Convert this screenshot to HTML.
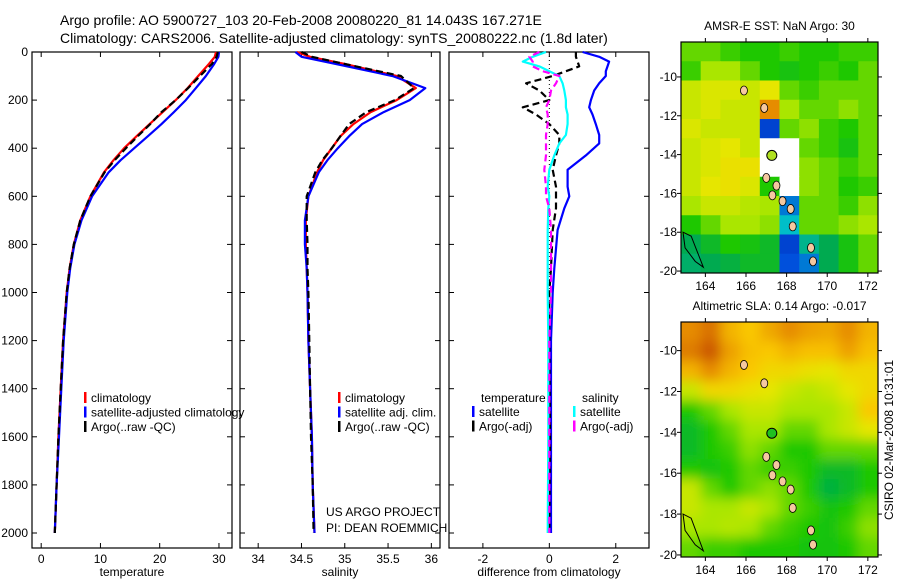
<!DOCTYPE html>
<html><head><meta charset="utf-8"><style>
body{margin:0;background:#fff;}
svg text{font-family:"Liberation Sans",sans-serif;fill:#000;}
</style></head><body>
<svg id="fig" width="900" height="580" viewBox="0 0 900 580" xmlns="http://www.w3.org/2000/svg">
<text x="60" y="25" font-size="14">Argo profile: AO 5900727_103 20-Feb-2008 20080220_81 14.043S 167.271E</text>
<text x="60" y="43" font-size="14">Climatology: CARS2006. Satellite-adjusted climatology: synTS_20080222.nc (1.8d later)</text>
<g id="plots"></g>
<text transform="translate(893,440) rotate(-90)" text-anchor="middle" font-size="12">CSIRO 02-Mar-2008 10:31:01</text>
</svg>
<script>
const depths=[0,20,50,100,150,200,250,300,350,400,450,500,600,700,800,900,1000,1200,1400,1600,1800,2000];
const tempClim=[29.5,29.3,28.3,26.5,24.7,22.7,20.5,18.3,16.1,14.0,12.2,10.6,8.3,6.6,5.5,4.8,4.3,3.7,3.3,2.9,2.6,2.3];
const tempSat=[30.0,29.9,29.2,27.8,26.1,24.4,22.4,20.3,18.0,15.7,13.4,11.4,8.6,6.8,5.6,4.9,4.4,3.8,3.4,3.0,2.6,2.3];
const tempArgo=[29.8,29.6,28.8,26.8,24.8,22.7,20.3,18.4,16.3,14.3,12.4,10.7,8.3,6.6,5.5,4.8,4.3,3.7,3.3,2.9,2.6,2.3];
const salClim=[34.45,34.6,35.0,35.6,35.82,35.6,35.3,35.1,34.95,34.85,34.75,34.68,34.58,34.55,34.55,34.56,34.57,34.58,34.6,34.62,34.63,34.65];
const salSat=[34.43,34.5,34.9,35.55,35.93,35.75,35.45,35.2,35.05,34.92,34.8,34.7,34.58,34.54,34.54,34.56,34.57,34.58,34.6,34.62,34.63,34.65];
const salArgo=[34.5,34.62,35.0,35.65,35.8,35.58,35.25,35.05,34.95,34.85,34.74,34.66,34.56,34.56,34.57,34.57,34.58,34.59,34.6,34.61,34.63,34.64];
const dDepths=[0,20,40,60,80,100,130,160,200,230,260,300,345,380,430,490,560,600,650,740,900,1000,1200,1600,2000];
const dTempSat=[1.0,1.5,1.8,1.75,1.7,1.7,1.5,1.35,1.25,1.2,1.3,1.4,1.5,1.5,1.1,0.55,0.55,0.6,0.45,0.25,0.15,0.1,0.05,0.05,0.05];
const dTempArgo=[0.8,0.8,0.85,0.9,0.5,0.1,-0.7,-0.3,0,-0.8,-0.4,0,0.3,0.3,0.2,0.1,0.2,0.2,0.2,0.1,0.05,0,0,0.02,0];
const dSalSat=[-0.1,-0.5,-0.8,-0.3,0.0,0.3,0.4,0.45,0.5,0.5,0.55,0.55,0.5,0.3,0.15,0.0,-0.05,0,-0.03,-0.05,-0.05,-0.05,-0.03,-0.03,-0.05];
const dSalArgo=[-0.3,-0.6,-0.5,-0.5,-0.2,0.3,0.2,0.05,0,-0.1,-0.05,-0.05,-0.1,-0.1,-0.1,-0.15,-0.1,-0.1,0,0.05,0.05,0.05,0,0,0];
const depthTicks=[0,200,400,600,800,1000,1200,1400,1600,1800,2000];
const tempTicks=[0,10,20,30];
const salTicks=[34,34.5,35,35.5,36];
const salTickLabels=["34","34.5","35","35.5","36"];
const diffTicks=[-2,0,2];
const lonTicks=[164,166,168,170,172];
const latTicks=[-10,-12,-14,-16,-18,-20];
const sstGrid=[
[.45,.45,.42,.40,.40,.42,.40,.40,.42,.42],
[.42,.50,.50,.45,.40,.38,.40,.42,.40,.45],
[.55,.58,.58,.55,.60,.45,.42,.45,.45,.45],
[.55,.58,.55,.55,.85,.50,.45,.45,.48,.45],
[.58,.55,.55,.55,.10,.45,.48,.42,.40,.45],
[.55,.58,.60,.55,null,null,.45,.42,.38,.45],
[.55,.58,.62,.62,null,null,.48,.45,.42,.45],
[.55,.60,.62,.58,.40,null,.48,.45,.40,.42],
[.50,.55,.55,.52,.50,.15,.45,.45,.42,.48],
[.40,.45,.50,.50,.48,.20,.45,.45,.48,.50],
[.30,.35,.40,.38,.35,.10,.25,.30,.38,.45],
[.28,.30,.32,.35,.35,.12,.15,.30,.38,.45]];
const slaGrid=[
[.85,.90,.75,.70,.78,.85,.80,.78,.85,.75],
[.88,.95,.80,.72,.70,.75,.72,.72,.80,.72],
[.75,.85,.75,.70,.65,.65,.62,.60,.65,.65],
[.55,.65,.65,.62,.60,.55,.52,.55,.60,.65],
[.40,.45,.50,.55,.55,.50,.50,.50,.55,.70],
[.35,.40,.45,.50,.50,.45,.45,.50,.55,.60],
[.35,.40,.42,.48,.45,.40,.40,.45,.45,.45],
[.40,.38,.40,.45,.42,.42,.40,.35,.35,.40],
[.55,.45,.40,.45,.48,.45,.40,.32,.35,.40],
[.55,.50,.50,.55,.50,.45,.42,.38,.40,.45],
[.50,.50,.52,.50,.45,.42,.40,.38,.42,.48],
[.45,.42,.42,.40,.40,.40,.38,.38,.40,.45]];
const islands=[[167.0,-15.2],[167.5,-15.6],[167.3,-16.1],[167.8,-16.4],[168.2,-16.8],[168.3,-17.7],[169.2,-18.8],[169.3,-19.5],[162.2,-10.5],[165.9,-10.7],[166.9,-11.6]];
const argoLon=167.271, argoLat=-14.043;

const NS="http://www.w3.org/2000/svg";
const root=document.getElementById('plots');
function mk(tag,attrs,parent){const e=document.createElementNS(NS,tag);for(const k in attrs)e.setAttribute(k,attrs[k]);(parent||root).appendChild(e);return e;}
function txt(x,y,s,size,anchor,parent){const t=mk('text',{x:x,y:y,'font-size':size||12,'text-anchor':anchor||'start'},parent);t.textContent=s;return t;}

const yTop=52, yBot=548;
function yD(d){return yTop+d*0.2405;}

function panel(name,x0,x1,vmin,vmax,ticks,tickLabels,xlabel,showY){
  const g=mk('g',{});
  
  
  const xs=v=>x0+(v-vmin)/(vmax-vmin)*(x1-x0);
  const r=mk('rect',{x:x0,y:yTop,width:x1-x0,height:yBot-yTop,fill:'none',stroke:'#000','stroke-width':1.2},g);
  
  
  depthTicks.forEach(d=>{
    const y=yD(d);
    mk('line',{x1:x0,x2:x0+5,y1:y,y2:y,stroke:'#000'},g);
    mk('line',{x1:x1-5,x2:x1,y1:y,y2:y,stroke:'#000'},g);
    if(showY){const t=txt(x0-4,y+4,String(d),12,'end',g);
      
      }
  });
  ticks.forEach((v,i)=>{
    const x=xs(v);
    mk('line',{x1:x,x2:x,y1:yBot,y2:yBot-5,stroke:'#000'},g);
    mk('line',{x1:x,x2:x,y1:yTop,y2:yTop+5,stroke:'#000'},g);
    const t=txt(x,yBot+15,tickLabels[i],12,'middle',g);
    
    
  });
  const xl=txt((x0+x1)/2,yBot+28,xlabel,12,'middle',g);
  
  
  return {g,xs};
}
function line(p,ds,vals,color,dash,nm,w){
  const pts=ds.map((d,i)=>p.xs(vals[i]).toFixed(1)+','+yD(d).toFixed(1)).join(' ');
  const a={points:pts,fill:'none',stroke:color,'stroke-width':w||2.2,'stroke-linejoin':'round'};
  if(dash)a['stroke-dasharray']=dash;
  const e=mk('polyline',a,p.g);
  
  
}
function legend(p,x,y,items){
  items.forEach((it,i)=>{
    const yy=y+i*14.5;
    mk('rect',{x:x,y:yy-10,width:2.5,height:11,fill:it[1]},p.g);
    const t=txt(x+7,yy,it[0],12,'start',p.g);
    
    
  });
}
const p1=panel('temperature-panel',32,232,-1.55,32.2,tempTicks,tempTicks.map(String),'temperature',true);
line(p1,depths,tempClim,'#f00',null,'temp-climatology-line');
line(p1,depths,tempSat,'#00f',null,'temp-satellite-line');
line(p1,depths,tempArgo,'#000','7,4','temp-argo-line');
legend(p1,84,402,[['climatology','#f00'],['satellite-adjusted climatology','#00f'],['Argo(..raw -QC)','#000']]);
const p2=panel('salinity-panel',240,440,33.79,36.1,salTicks,salTickLabels,'salinity',false);
line(p2,depths,salClim,'#f00',null,'sal-climatology-line');
line(p2,depths,salSat,'#00f',null,'sal-satellite-line');
line(p2,depths,salArgo,'#000','7,4','sal-argo-line');
legend(p2,338,402,[['climatology','#f00'],['satellite adj. clim.','#00f'],['Argo(..raw -QC)','#000']]);
let t=txt(326,550-34,'US ARGO PROJECT',12,'start',p2.g);

t=txt(326,550-18,'PI: DEAN ROEMMICH',12,'start',p2.g);

const p3=panel('difference-panel',449,649,-3.02,3.0,diffTicks,diffTicks.map(String),'difference from climatology',false);
mk('line',{x1:p3.xs(0),x2:p3.xs(0),y1:yTop,y2:yD(2000),stroke:'#000','stroke-dasharray':'1,3'},p3.g);
line(p3,dDepths,dTempSat,'#00f',null,'diff-temp-satellite-line');
line(p3,dDepths,dTempArgo,'#000','7,4','diff-temp-argo-line');
line(p3,dDepths,dSalSat,'#0ff',null,'diff-sal-satellite-line');
line(p3,dDepths,dSalArgo,'#f0f','7,4','diff-sal-argo-line');
t=txt(481,402,'temperature',12,'start',p3.g);
t=txt(582,402,'salinity',12,'start',p3.g);
legend(p3,472,416,[['satellite','#00f'],['Argo(-adj)','#000']]);
legend(p3,573,416,[['satellite','#0ff'],['Argo(-adj)','#f0f']]);

function cmap(v){
  const stops=[[0,[0,0,150]],[0.12,[0,80,220]],[0.2,[0,190,200]],[0.3,[0,170,80]],[0.4,[30,200,0]],[0.5,[170,230,0]],[0.6,[230,230,0]],[0.7,[250,200,0]],[0.85,[230,140,0]],[1,[190,60,0]]];
  for(let i=1;i<stops.length;i++){if(v<=stops[i][0]){const a=stops[i-1],b=stops[i],f=(v-a[0])/(b[0]-a[0]);
    return 'rgb('+a[1].map((c,k)=>Math.round(c+(b[1][k]-c)*f)).join(',')+')';}}
  return 'rgb(190,60,0)';
}
const defs=mk('defs',{});
const flt=mk('filter',{id:'blur',x:'-5%',y:'-5%',width:'110%',height:'110%'},defs);
mk('feGaussianBlur',{stdDeviation:6},flt);
function mapPanel(name,x0,x1,y0,y1,lonMin,lonMax,latTop,latBot,grid,title,smooth){
  const g=mk('g',{});
  
  
  const xs=l=>x0+(l-lonMin)/(lonMax-lonMin)*(x1-x0);
  const ys=l=>y0+(latTop-l)/(latTop-latBot)*(y1-y0);
  const cp=mk('clipPath',{id:name+'-clip'},defs);
  mk('rect',{x:x0,y:y0,width:x1-x0,height:y1-y0},cp);
  const cg=mk('g',{'clip-path':'url(#'+name+'-clip)'},g);
  const ig=mk('g',smooth?{filter:'url(#blur)'}:{},cg);
  const nr=grid.length,nc=grid[0].length;
  const cw=(x1-x0)/nc, ch=(y1-y0)/nr;
  grid.forEach((row,r)=>row.forEach((v,c)=>{
    const e=mk('rect',{x:x0+c*cw-(smooth?12:0)*(c==0),y:y0+r*ch-(smooth?12:0)*(r==0),width:cw+0.6+(smooth?12:0)*(c==0||c==nc-1),height:ch+0.6+(smooth?12:0)*(r==0||r==nr-1),fill:v===null?'#fff':cmap(v)},ig);
    
    
  }));
  islands.forEach(p=>{
    const e=mk('ellipse',{cx:xs(p[0]),cy:ys(p[1]),rx:3.5,ry:4.5,fill:'#f5c8a0',stroke:'#000','stroke-width':0.8},cg);
    
    
  });
  mk('path',{d:`M${xs(162.9)},${ys(-18.0)} L${xs(163.3)},${ys(-18.2)} L${xs(163.6)},${ys(-19.0)} L${xs(163.9)},${ys(-19.8)} L${xs(163.5)},${ys(-19.5)} L${xs(163.0)},${ys(-18.8)} Z`,fill:'none',stroke:'#000','stroke-width':1},cg);
  const m=mk('circle',{cx:xs(argoLon),cy:ys(argoLat),r:5,fill:smooth?'#20c020':'#b0e020',stroke:'#000','stroke-width':1},cg);
  
  
  mk('rect',{x:x0,y:y0,width:x1-x0,height:y1-y0,fill:'none',stroke:'#000','stroke-width':1.2},g);
  lonTicks.forEach(l=>{const x=xs(l);mk('line',{x1:x,x2:x,y1:y1,y2:y1+4,stroke:'#000'},g);mk('line',{x1:x,x2:x,y1:y0,y2:y0-4,stroke:'#000'},g);
    const tt=txt(x,y1+17,String(l),12,'middle',g);});
  latTicks.forEach(l=>{const y=ys(l);mk('line',{x1:x0-4,x2:x0,y1:y,y2:y,stroke:'#000'},g);mk('line',{x1:x1,x2:x1+4,y1:y,y2:y,stroke:'#000'},g);
    const tt=txt(x0-4,y+4,'-'+Math.abs(l),12,'end',g);});
  const tt=txt((x0+x1)/2,y0-12,title,12,'middle',g);
  
  
}
mapPanel('sst-map',681,878,42,273,162.8,172.5,-8.2,-20.1,sstGrid,'AMSR-E SST: NaN  Argo: 30',false);
mapPanel('sla-map',681,878,322,557,162.8,172.5,-8.6,-20.1,slaGrid,'Altimetric SLA: 0.14  Argo: -0.017',true);
</script>
</body></html>
